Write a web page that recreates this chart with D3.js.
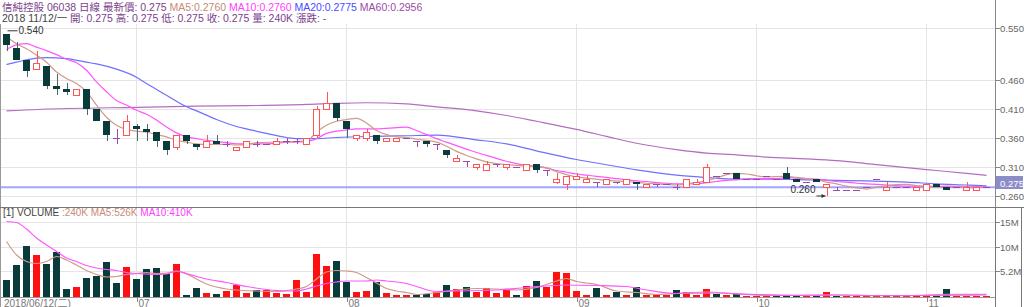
<!DOCTYPE html>
<html><head><meta charset="utf-8">
<script src="https://cdn.jsdelivr.net/npm/d3@7"></script>
<style>
body{margin:0;background:#fff;}
svg{display:block;}
text{font-family:"Liberation Sans","Noto Sans CJK TC",sans-serif;}
</style>
</head><body>
<svg id="c" width="1024" height="307"></svg>
<script>
// ---------------- DATA ----------------
const dates = [
"2018/06/12","2018/06/13","2018/06/14","2018/06/15","2018/06/19","2018/06/20","2018/06/21","2018/06/22","2018/06/25","2018/06/26","2018/06/27","2018/06/28","2018/06/29",
"2018/07/03","2018/07/04","2018/07/05","2018/07/06","2018/07/09","2018/07/10","2018/07/11","2018/07/12","2018/07/13","2018/07/16","2018/07/17","2018/07/18","2018/07/19","2018/07/20","2018/07/23","2018/07/24","2018/07/25","2018/07/26","2018/07/27","2018/07/30","2018/07/31",
"2018/08/01","2018/08/02","2018/08/03","2018/08/06","2018/08/07","2018/08/08","2018/08/09","2018/08/10","2018/08/13","2018/08/14","2018/08/15","2018/08/16","2018/08/17","2018/08/20","2018/08/21","2018/08/22","2018/08/23","2018/08/24","2018/08/27","2018/08/28","2018/08/29","2018/08/30","2018/08/31",
"2018/09/03","2018/09/04","2018/09/05","2018/09/06","2018/09/07","2018/09/10","2018/09/11","2018/09/12","2018/09/13","2018/09/14","2018/09/18","2018/09/19","2018/09/20","2018/09/21","2018/09/24","2018/09/26","2018/09/27","2018/09/28",
"2018/10/02","2018/10/03","2018/10/04","2018/10/05","2018/10/08","2018/10/09","2018/10/10","2018/10/11","2018/10/12","2018/10/15","2018/10/16","2018/10/18","2018/10/19","2018/10/22","2018/10/23","2018/10/24","2018/10/25",
"2018/11/01","2018/11/02","2018/11/05","2018/11/06","2018/11/07","2018/11/09","2018/11/12"
];
const open = [0.540,0.515,0.495,0.480,0.485,0.450,0.445,0.435,0.445,0.410,0.390,0.360,0.365,
0.380,0.375,0.370,0.355,0.345,0.365,0.350,0.345,0.355,0.350,0.340,0.345,0.350,0.350,0.350,0.355,0.355,0.350,0.365,0.410,0.420,
0.390,0.360,0.360,0.365,0.355,0.355,0.360,0.355,0.355,0.350,0.340,0.320,0.320,0.310,0.305,0.315,0.310,0.310,0.305,0.315,0.305,0.285,0.280,
0.290,0.285,0.285,0.280,0.285,0.280,0.285,0.275,0.280,0.280,0.275,0.275,0.280,0.285,0.295,0.300,0.300,0.290,
0.290,0.295,0.290,0.300,0.290,0.285,0.290,0.275,0.270,0.270,0.270,0.275,0.290,0.270,0.275,0.275,0.270,
0.270,0.280,0.275,0.275,0.270,0.270,0.275];
const high = [0.540,0.525,0.495,0.510,0.485,0.470,0.455,0.445,0.445,0.410,0.390,0.375,0.400,
0.385,0.385,0.370,0.355,0.365,0.365,0.350,0.365,0.365,0.355,0.345,0.355,0.355,0.350,0.360,0.360,0.360,0.360,0.415,0.440,0.420,
0.390,0.365,0.375,0.365,0.360,0.360,0.360,0.355,0.355,0.350,0.340,0.330,0.320,0.315,0.320,0.315,0.315,0.310,0.315,0.315,0.305,0.300,0.295,
0.300,0.295,0.285,0.290,0.285,0.290,0.285,0.280,0.280,0.280,0.280,0.290,0.290,0.315,0.295,0.300,0.300,0.290,
0.290,0.295,0.290,0.310,0.290,0.285,0.290,0.280,0.275,0.270,0.270,0.275,0.290,0.285,0.275,0.275,0.275,
0.280,0.280,0.275,0.275,0.285,0.275,0.275];
const low = [0.510,0.495,0.465,0.480,0.445,0.435,0.435,0.435,0.400,0.390,0.355,0.350,0.365,
0.355,0.355,0.345,0.330,0.340,0.350,0.340,0.345,0.350,0.345,0.340,0.345,0.345,0.350,0.350,0.350,0.350,0.350,0.360,0.410,0.390,
0.360,0.355,0.355,0.350,0.355,0.355,0.360,0.345,0.345,0.340,0.325,0.320,0.310,0.305,0.305,0.310,0.305,0.310,0.305,0.300,0.295,0.280,0.270,
0.290,0.285,0.275,0.280,0.280,0.280,0.270,0.275,0.275,0.280,0.270,0.275,0.280,0.285,0.295,0.300,0.290,0.290,
0.290,0.295,0.290,0.290,0.285,0.285,0.285,0.260,0.270,0.270,0.270,0.275,0.290,0.270,0.275,0.275,0.270,
0.270,0.275,0.270,0.275,0.270,0.270,0.275];
const close = [0.520,0.495,0.475,0.490,0.450,0.445,0.440,0.445,0.410,0.390,0.365,0.360,0.390,
0.375,0.370,0.355,0.340,0.365,0.355,0.345,0.355,0.350,0.350,0.345,0.355,0.350,0.350,0.355,0.355,0.355,0.360,0.410,0.420,0.395,
0.375,0.365,0.370,0.355,0.360,0.360,0.360,0.355,0.350,0.350,0.330,0.325,0.320,0.315,0.315,0.315,0.315,0.310,0.315,0.305,0.305,0.290,0.295,
0.295,0.290,0.285,0.290,0.285,0.290,0.280,0.280,0.280,0.280,0.275,0.290,0.285,0.310,0.295,0.300,0.290,0.290,
0.290,0.295,0.290,0.290,0.285,0.285,0.285,0.280,0.270,0.270,0.270,0.275,0.290,0.275,0.275,0.275,0.275,
0.280,0.275,0.270,0.275,0.275,0.275,0.275];
// volume in millions of shares
const volume = [3.4,6.5,10.2,8.4,6.7,9.1,1.7,2.1,3.9,4.2,7.1,2.9,6.1,
3.6,5.6,5.9,4.7,6.7,0.5,1.9,0.9,0.6,1.2,2.5,0.9,1.4,1.4,0.9,0.7,3.4,1.1,8.7,6.2,7.2,
3.1,1.1,1.2,3.1,0.9,0.4,0.4,0.5,0.6,1.1,2.4,1.6,2.1,1.1,1.9,0.9,1.7,0.4,2.3,3.3,2.1,5.1,4.8,
1.2,0.4,1.9,0.4,1.1,0.5,2.0,0.5,0.5,0.5,1.5,1.1,0.4,1.6,0.7,0.5,0.6,0.2,
0.2,0.2,0.2,0.4,0.3,0.2,0.3,1.1,0.2,0.2,0.2,0.2,0.2,0.3,0.2,0.2,0.3,
0.3,0.3,1.7,0.2,0.3,0.3,0.24];
// moving averages: [day index, value]
const ma5 = [[0,0.535],[1,0.523],[2,0.514],[3,0.503],[4,0.491],[5,0.474],[6,0.463],[7,0.454],[8,0.440],[9,0.417],[10,0.396],[11,0.382],[12,0.375],[13,0.372],[14,0.370],[15,0.366],[16,0.362],[17,0.356],[18,0.353],[19,0.350],[20,0.349],[22,0.349],[23,0.348],[24,0.349],[25,0.352],[27,0.353],[29,0.354],[30,0.355],[31,0.370],[32,0.382],[33,0.389],[34,0.392],[35,0.394],[36,0.386],[37,0.373],[38,0.366],[39,0.362],[40,0.361],[41,0.358],[42,0.356],[43,0.353],[44,0.346],[45,0.337],[46,0.330],[47,0.324],[48,0.319],[49,0.316],[50,0.314],[52,0.312],[53,0.311],[54,0.309],[55,0.302],[56,0.297],[57,0.293],[58,0.291],[59,0.289],[60,0.287],[62,0.285],[64,0.282],[66,0.280],[67,0.279],[68,0.281],[69,0.283],[70,0.286],[71,0.291],[72,0.297],[73,0.299],[74,0.298],[75,0.295],[76,0.293],[78,0.294],[79,0.292],[80,0.290],[81,0.288],[82,0.284],[83,0.281],[84,0.277],[85,0.274],[86,0.272],[87,0.275],[88,0.278],[90,0.280],[91,0.278],[92,0.276],[94,0.275],[96,0.275],[97,0.274],[98,0.276]];
const ma10 = [[0,0.513],[1,0.521],[2,0.523],[3,0.517],[4,0.511],[5,0.504],[6,0.496],[7,0.490],[8,0.477],[9,0.457],[10,0.440],[11,0.425],[12,0.417],[13,0.408],[14,0.401],[15,0.391],[16,0.379],[17,0.369],[18,0.362],[19,0.359],[20,0.356],[21,0.354],[22,0.352],[23,0.350],[25,0.350],[27,0.351],[28,0.353],[30,0.354],[31,0.359],[32,0.368],[33,0.372],[34,0.374],[35,0.376],[37,0.376],[39,0.378],[40,0.379],[41,0.373],[42,0.366],[43,0.359],[44,0.353],[45,0.347],[46,0.341],[47,0.335],[48,0.330],[49,0.325],[50,0.320],[51,0.316],[52,0.313],[53,0.311],[54,0.308],[55,0.304],[56,0.301],[57,0.298],[58,0.296],[59,0.294],[60,0.292],[61,0.290],[62,0.288],[63,0.286],[64,0.285],[65,0.283],[66,0.282],[67,0.281],[69,0.281],[70,0.283],[71,0.285],[72,0.287],[73,0.288],[74,0.289],[75,0.290],[77,0.290],[78,0.292],[79,0.291],[80,0.290],[81,0.289],[82,0.287],[83,0.285],[84,0.284],[85,0.282],[86,0.281],[87,0.280],[88,0.279],[89,0.278],[90,0.277],[92,0.277],[93,0.276],[94,0.277],[95,0.276],[98,0.276]];
const ma20 = [[0,0.487],[1,0.491],[3,0.498],[4,0.499],[6,0.497],[8,0.491],[9,0.488],[11,0.479],[13,0.465],[14,0.454],[16,0.434],[18,0.414],[19,0.407],[21,0.392],[23,0.380],[24,0.376],[26,0.368],[28,0.361],[29,0.359],[31,0.359],[33,0.361],[37,0.363],[40,0.364],[43,0.365],[47,0.357],[50,0.350],[53,0.338],[57,0.323],[60,0.314],[63,0.305],[67,0.296],[70,0.292],[73,0.289],[76,0.289],[80,0.288],[83,0.287],[86,0.286],[90,0.284],[93,0.281],[96,0.279],[98,0.2775]];
const ma60 = [[0,0.407],[6,0.411],[13,0.413],[19,0.415],[24,0.416],[30,0.418],[33,0.420],[36,0.421],[40,0.419],[43,0.414],[47,0.407],[50,0.399],[53,0.389],[57,0.375],[60,0.363],[63,0.351],[67,0.340],[70,0.334],[73,0.331],[76,0.327],[80,0.324],[83,0.321],[86,0.316],[90,0.309],[93,0.304],[96,0.299],[98,0.2956]];
const volMa5 = [[0,11.1],[1,8.4],[2,7.1],[3,6.7],[4,7.1],[5,8.1],[6,7.4],[7,6.4],[8,5.3],[9,4.5],[10,4.0],[11,4.1],[12,4.5],[13,4.7],[14,4.9],[15,4.7],[16,4.8],[17,5.2],[18,4.6],[19,3.6],[20,2.6],[21,2.0],[22,1.6],[23,1.4],[25,1.2],[27,1.1],[28,1.3],[29,1.6],[30,2.1],[31,3.6],[32,5.0],[33,5.3],[34,5.2],[35,4.9],[36,3.9],[37,2.8],[38,1.7],[39,1.2],[40,0.9],[41,0.5],[43,0.9],[45,1.4],[47,1.7],[49,1.6],[51,1.4],[53,1.9],[55,3.2],[56,3.7],[57,3.1],[58,2.8],[59,2.5],[61,1.2],[63,0.9],[65,0.5],[67,0.7],[70,1.0],[73,0.6],[76,0.3],[79,0.3],[82,0.4],[84,0.4],[87,0.25],[90,0.25],[94,0.55],[98,0.53]];
const volMa10 = [[0,15.1],[1,14.9],[2,13.6],[3,11.8],[4,10.4],[5,9.1],[6,7.8],[7,7.1],[8,6.3],[9,5.8],[10,5.5],[11,5.3],[12,4.9],[13,4.7],[14,4.6],[15,4.5],[16,4.6],[17,5.1],[18,4.7],[19,4.1],[20,3.6],[22,2.9],[24,2.1],[26,1.5],[28,1.2],[29,1.2],[30,1.6],[31,2.2],[32,2.7],[33,3.0],[34,3.2],[36,3.2],[37,3.4],[38,3.2],[40,2.7],[41,2.1],[43,1.1],[45,1.2],[49,1.4],[52,1.9],[56,2.4],[59,2.3],[62,2.1],[64,1.4],[67,0.7],[71,0.8],[75,0.5],[79,0.35],[83,0.4],[87,0.3],[91,0.3],[98,0.41]];
const priceTicks = [0.550,0.460,0.410,0.360,0.310,0.260];
const volTicks = [15,10,5.2];
const volTickLabels = ["15M","10M","5.2M"];
const monthStarts = ["2018/06/12","2018/07/03","2018/08/01","2018/09/03","2018/10/02","2018/11/01"];
const monthLabels = ["2018/06/12(二)","07","08","09","10","11"];
const lastPrice = 0.275;
const highMark = {idx:0, value:0.540, label:"0.540"};
const lowMark = {idx:82, value:0.260, label:"0.260"};

// ---------------- CHART ----------------
const svg = d3.select('#c');
const AX = 995.5;
const x = d3.scaleBand().domain(dates).range([1.5, 991.5]).paddingInner(0.3).paddingOuter(0.15);
const bw = x.bandwidth();
const cx = d => x(d) + bw/2;
const xi = d3.scaleLinear().domain([0, dates.length-1]).range([cx(dates[0]), cx(dates[dates.length-1])]);
const yP = d3.scaleLinear().domain([0.260, 0.550]).range([196, 28]);
const yV = d3.scaleLinear().domain([0, 15]).range([297, 222]);

const COL = {up:'#ff5555', down:'#0a3b3b', doji:'#9a4aa8', ma5:'#cf9a8a', ma10:'#ff55ff', ma20:'#6f6fff', ma60:'#b46cc0', grid:'#e4e4e4', axis:'#777', volUp:'#ff1010'};
const AXF = 9.6;

const g = svg.append('g');
// grids
g.selectAll('.hg').data(priceTicks).enter().append('line')
  .attr('x1',0).attr('x2',AX).attr('y1',d=>Math.round(yP(d))+0.5).attr('y2',d=>Math.round(yP(d))+0.5)
  .attr('stroke',COL.grid);
g.selectAll('.hv').data(volTicks).enter().append('line')
  .attr('x1',0).attr('x2',AX).attr('y1',d=>Math.round(yV(d))+0.5).attr('y2',d=>Math.round(yV(d))+0.5)
  .attr('stroke',COL.grid);
monthStarts.slice(1).forEach(d=>{
  g.append('line').attr('x1',cx(d)).attr('x2',cx(d)).attr('y1',24).attr('y2',207).attr('stroke',COL.grid);
  g.append('line').attr('x1',cx(d)).attr('x2',cx(d)).attr('y1',208).attr('y2',297).attr('stroke',COL.grid);
});

// last price line
g.append('line').attr('x1',0).attr('x2',AX).attr('y1',yP(lastPrice)).attr('y2',yP(lastPrice))
  .attr('stroke','#a4a4ff').attr('stroke-width',2);

// MA lines
const line = d3.line().x(d=>xi(d[0])).y(d=>yP(d[1])).curve(d3.curveMonotoneX);
[[ma60,COL.ma60],[ma20,COL.ma20],[ma10,COL.ma10],[ma5,COL.ma5]].forEach(([arr,c])=>{
  g.append('path').attr('d',line(arr)).attr('fill','none').attr('stroke',c).attr('stroke-width',1.2);
});

// candles
const data = dates.map((d,i)=>({d,i,o:open[i],h:high[i],l:low[i],c:close[i],v:volume[i]}));
const cg = g.append('g').attr('shape-rendering','crispEdges');
data.forEach(k=>{
  const xc = Math.round(cx(k.d)) + 0.5;
  const left = Math.round(x(k.d));
  const type = k.c>k.o ? 'up' : (k.c<k.o ? 'down' : 'doji');
  const col = COL[type];
  const yt = yP(Math.max(k.o,k.c)), yb = yP(Math.min(k.o,k.c));
  if(type==='up'){
    cg.append('line').attr('x1',xc).attr('x2',xc).attr('y1',yP(k.h)).attr('y2',yt).attr('stroke',col);
    cg.append('line').attr('x1',xc).attr('x2',xc).attr('y1',yb).attr('y2',yP(k.l)).attr('stroke',col);
    cg.append('rect').attr('x',left+0.5).attr('y',Math.round(yt)+0.5).attr('width',Math.round(bw)-1)
      .attr('height',Math.max(1,Math.round(yb)-Math.round(yt))).attr('fill','#fff').attr('stroke',col);
  } else if(type==='down'){
    cg.append('line').attr('x1',xc).attr('x2',xc).attr('y1',yP(k.h)).attr('y2',yP(k.l)).attr('stroke','#4a6a6a');
    cg.append('rect').attr('x',left).attr('y',Math.round(yt)).attr('width',Math.round(bw))
      .attr('height',Math.max(2,Math.round(yb)-Math.round(yt))).attr('fill',col);
  } else {
    cg.append('line').attr('x1',xc).attr('x2',xc).attr('y1',yP(k.h)).attr('y2',yP(k.l)).attr('stroke',col);
    cg.append('line').attr('x1',left).attr('x2',left+Math.round(bw)).attr('y1',Math.round(yt)+0.5).attr('y2',Math.round(yt)+0.5).attr('stroke',col);
  }
});

// volume bars
data.forEach(k=>{
  let up;
  if(k.c>k.o) up=true; else if(k.c<k.o) up=false;
  else up = k.i===0 ? true : k.c>=close[k.i-1];
  cg.append('rect').attr('x',Math.round(x(k.d))).attr('y',Math.round(yV(k.v)))
    .attr('width',Math.round(bw)).attr('height',Math.max(1,297-Math.round(yV(k.v))))
    .attr('fill',up?COL.volUp:COL.down);
});
const vline = d3.line().x(d=>xi(d[0])).y(d=>yV(d[1])).curve(d3.curveMonotoneX);
g.append('path').attr('d',vline(volMa5)).attr('fill','none').attr('stroke',COL.ma5).attr('stroke-width',1.2);
g.append('path').attr('d',vline(volMa10)).attr('fill','none').attr('stroke',COL.ma10).attr('stroke-width',1.2);

// frames
const fr = g.append('g').attr('shape-rendering','crispEdges');
fr.append('line').attr('x1',0.5).attr('x2',0.5).attr('y1',24).attr('y2',307).attr('stroke','#999');
fr.append('line').attr('x1',AX).attr('x2',AX).attr('y1',0).attr('y2',307).attr('stroke','#888');
fr.append('line').attr('x1',0).attr('x2',1024).attr('y1',207.5).attr('y2',207.5).attr('stroke','#777').attr('stroke-width',1.5);
fr.append('line').attr('x1',0).attr('x2',AX).attr('y1',297.5).attr('y2',297.5).attr('stroke','#999');
fr.append('rect').attr('x',AX).attr('y',207.5).attr('width',26).attr('height',110).attr('fill','none').attr('stroke','#777').attr('stroke-width',1.2);

// price axis labels
priceTicks.forEach(t=>{
  const yy = Math.round(yP(t))+0.5;
  fr.append('line').attr('x1',AX).attr('x2',AX+4).attr('y1',yy).attr('y2',yy).attr('stroke','#888');
  g.append('text').attr('x',AX+4.5).attr('y',yy+3.5).attr('font-size',AXF).attr('fill','#666').text(d3.format('.3f')(t));
});
// last price box
const lpY = 183;
g.append('rect').attr('x',AX+0.5).attr('y',lpY-7).attr('width',27).attr('height',13).attr('fill','#8c8cc8');
g.append('text').attr('x',AX+4.5).attr('y',lpY+3.5).attr('font-size',AXF).attr('fill','#fff').text(d3.format('.3f')(lastPrice));
// volume axis labels
volTicks.forEach((t,i)=>{
  const yy = Math.round(yV(t))+0.5;
  fr.append('line').attr('x1',AX).attr('x2',AX+4).attr('y1',yy).attr('y2',yy).attr('stroke','#888');
  g.append('text').attr('x',AX+4.5).attr('y',yy+3.5).attr('font-size',AXF).attr('fill','#666').text(volTickLabels[i]);
});
// month labels
monthStarts.forEach((d,i)=>{
  const xx = i===0 ? 4 : Math.round(cx(d))+0.5;
  if(i>0) fr.append('line').attr('x1',xx).attr('x2',xx).attr('y1',297).attr('y2',302).attr('stroke','#888');
  g.append('text').attr('x',i===0?xx:xx+1).attr('y',306.5).attr('font-size',10).attr('fill','#777').text(monthLabels[i]);
});

// high / low markers
{
  const hx = xi(highMark.idx), hy = yP(highMark.value);
  g.append('line').attr('x1',hx+1).attr('x2',hx+11).attr('y1',hy-3).attr('y2',hy-3).attr('stroke','#333');
  g.append('text').attr('x',hx+12).attr('y',hy+0.5).attr('font-size',10).attr('fill','#333').text(highMark.label);
  const lx = xi(lowMark.idx), ly = yP(lowMark.value);
  g.append('line').attr('x1',lx-10).attr('x2',lx-1).attr('y1',ly).attr('y2',ly).attr('stroke','#333');
  g.append('path').attr('d',`M${lx-1},${ly} l-4,-2 l0,4 z`).attr('fill','#333');
  g.append('text').attr('x',lx-11).attr('y',ly-3).attr('text-anchor','end').attr('font-size',10).attr('fill','#333').text(lowMark.label);
}

// header
const HF = 10.5;
const h1 = svg.append('text').attr('x',2).attr('y',10.5).attr('font-size',HF);
h1.append('tspan').attr('fill','#7b3f8c').text('信純控股 06038 日線 最新價: ' + d3.format('.3f')(lastPrice) + ' ');
h1.append('tspan').attr('fill','#c98a7a').text('MA5:0.2760 ');
h1.append('tspan').attr('fill','#ff40ff').text('MA10:0.2760 ');
h1.append('tspan').attr('fill','#4a4aff').text('MA20:0.2775 ');
h1.append('tspan').attr('fill','#a04aa8').text('MA60:0.2956');
const h2 = svg.append('text').attr('x',2).attr('y',21.5).attr('font-size',HF);
h2.append('tspan').attr('fill','#444').text('2018 11/12/一 ');
h2.append('tspan').attr('fill','#7b3f8c').text('開: 0.275 高: 0.275 低: 0.275 收: 0.275 量: 240K 漲跌: -');
const h3 = svg.append('text').attr('x',3).attr('y',216).attr('font-size',10);
h3.append('tspan').attr('fill','#444').text('[1] VOLUME  ');
h3.append('tspan').attr('fill','#c98a7a').text(':240K MA5:526K ');
h3.append('tspan').attr('fill','#ff40ff').text('MA10:410K');
</script>
</body></html>
